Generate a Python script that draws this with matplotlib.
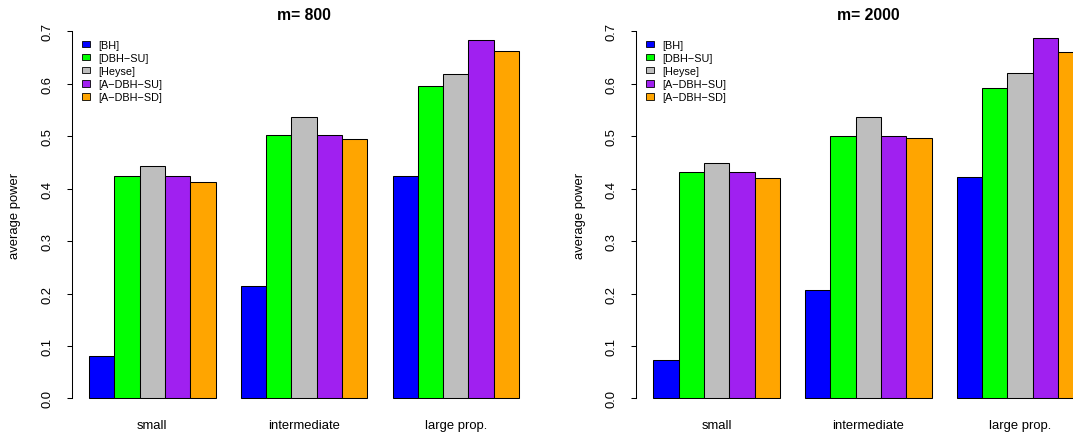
import numpy as np
import matplotlib
matplotlib.use("Agg")
import matplotlib.pyplot as plt
from matplotlib.patches import Patch

plt.rcParams['font.family'] = ['Liberation Sans', 'DejaVu Sans']

categories = ["small", "intermediate", "large prop."]
methods = ["[BH]", "[DBH\u2212SU]", "[Heyse]", "[A\u2212DBH\u2212SU]", "[A\u2212DBH\u2212SD]"]
colors = ["#0000ff", "#00ff00", "#bebebe", "#a020f0", "#ffa500"]

# average power, m = 800
bh_800 = [0.080, 0.215, 0.425]
dbh_su_800 = [0.425, 0.502, 0.596]
heyse_800 = [0.443, 0.537, 0.618]
adbh_su_800 = [0.425, 0.502, 0.683]
adbh_sd_800 = [0.413, 0.495, 0.663]

# average power, m = 2000
bh_2000 = [0.073, 0.206, 0.423]
dbh_su_2000 = [0.432, 0.500, 0.593]
heyse_2000 = [0.449, 0.536, 0.620]
adbh_su_2000 = [0.432, 0.500, 0.687]
adbh_sd_2000 = [0.420, 0.497, 0.660]

panels = [
    ("m= 800", [bh_800, dbh_su_800, heyse_800, adbh_su_800, adbh_sd_800]),
    ("m= 2000", [bh_2000, dbh_su_2000, heyse_2000, adbh_su_2000, adbh_sd_2000]),
]

W, H = 1073, 435
fig = plt.figure(figsize=(W / 100, H / 100), dpi=100)

# plot region in pixels (R style barplot, beside=TRUE)
ax_w = 464.5
ax_bottom, ax_top = 414.0, 17.8
lefts = [71.8, 636.1]

base = 9.4
for (title, series), left in zip(panels, lefts):
    ax = fig.add_axes([left / W, (H - ax_bottom) / H, ax_w / W, (ax_bottom - ax_top) / H])
    n = len(series)
    for j, vals in enumerate(series):
        x = np.array([1 + g * (n + 1) + j + 0.5 for g in range(len(categories))])
        ax.bar(x, vals, width=1.0, color=colors[j], edgecolor="black", linewidth=0.75)
    centers = [1 + g * (n + 1) + n / 2 for g in range(len(categories))]
    ax.set_xlim(0.32, 18.68)
    ax.set_ylim(-0.028, 0.728)
    for s in ["top", "right", "bottom"]:
        ax.spines[s].set_visible(False)
    ax.spines["left"].set_bounds(0, 0.7)
    ax.spines["left"].set_linewidth(0.75)
    ax.set_yticks(np.arange(0, 0.71, 0.1))
    ax.set_yticklabels([f"{v:.1f}" for v in np.arange(0, 0.71, 0.1)])
    ax.tick_params(axis="y", length=3.8, width=0.75, pad=9.5, labelsize=base, labelrotation=90)
    for lab in ax.get_yticklabels():
        lab.set_va("center")
    ax.set_xticks(centers)
    ax.set_xticklabels(categories)
    ax.tick_params(axis="x", length=0, pad=4, labelsize=base)
    ax.set_ylabel("average power", fontsize=base, va="center")
    ax.yaxis.set_label_coords(-56.5 / ax_w, 0.5)
    ax.set_title(title, fontsize=11.3, fontweight="bold", pad=0, y=(ax_bottom - 15.7) / (ax_bottom - ax_top), va="center")
    handles = [Patch(facecolor=c, edgecolor="black", linewidth=0.6) for c in colors]
    ax.legend(handles, methods, loc="upper left", bbox_to_anchor=(0.021, 0.942),
              frameon=False, fontsize=7.8, handlelength=0.75, handleheight=0.6,
              handletextpad=0.8, labelspacing=0.28, borderpad=0, borderaxespad=0)

plt.savefig("out.png", dpi=100)
